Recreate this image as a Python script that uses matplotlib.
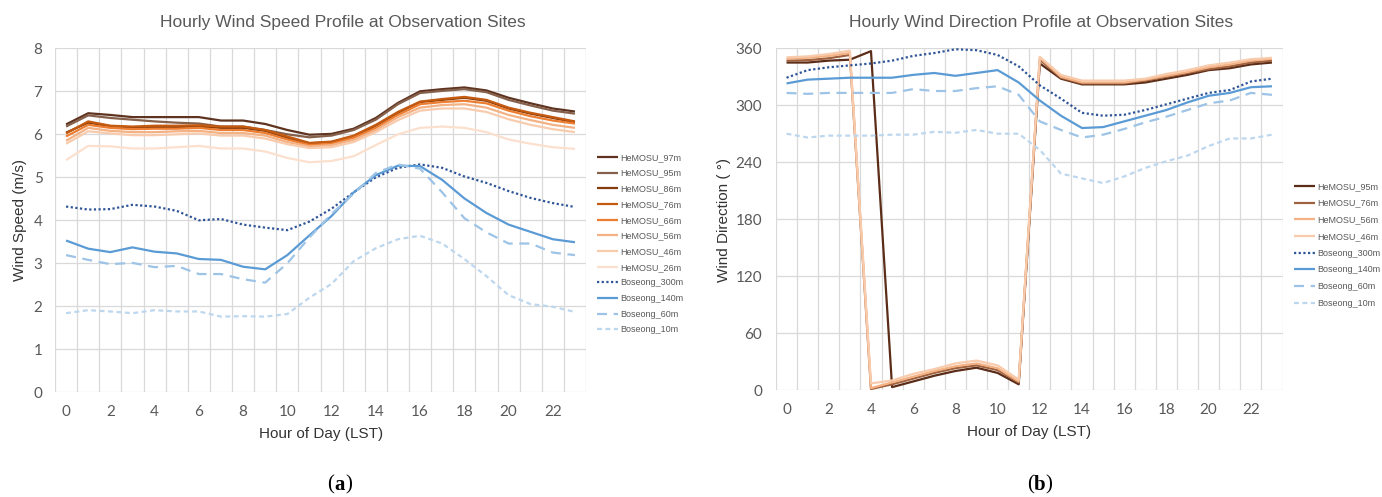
import matplotlib
matplotlib.use("Agg")
import matplotlib.pyplot as plt
from matplotlib.ticker import FixedLocator

hours = list(range(24))

# ---- Wind speed (m/s) ----
spd_hemosu_97 = [6.23, 6.49, 6.45, 6.40, 6.40, 6.40, 6.40, 6.32, 6.32, 6.24, 6.10, 5.99, 6.01, 6.13, 6.38, 6.73, 7.00, 7.05, 7.09, 7.02, 6.85, 6.72, 6.60, 6.53]
spd_hemosu_95 = [6.18, 6.44, 6.38, 6.34, 6.30, 6.27, 6.25, 6.18, 6.18, 6.10, 6.00, 5.93, 5.97, 6.10, 6.34, 6.70, 6.96, 7.01, 7.05, 6.98, 6.80, 6.67, 6.55, 6.48]
spd_hemosu_86 = [6.04, 6.27, 6.19, 6.16, 6.17, 6.17, 6.18, 6.15, 6.15, 6.08, 5.92, 5.79, 5.82, 5.95, 6.20, 6.50, 6.75, 6.80, 6.85, 6.78, 6.60, 6.48, 6.38, 6.28]
spd_hemosu_76 = [6.02, 6.30, 6.20, 6.18, 6.20, 6.20, 6.21, 6.18, 6.18, 6.10, 5.95, 5.80, 5.83, 5.97, 6.22, 6.52, 6.76, 6.82, 6.87, 6.80, 6.62, 6.50, 6.40, 6.30]
spd_hemosu_66 = [5.95, 6.22, 6.15, 6.12, 6.13, 6.13, 6.15, 6.10, 6.10, 6.03, 5.88, 5.75, 5.78, 5.92, 6.15, 6.45, 6.70, 6.75, 6.78, 6.72, 6.55, 6.42, 6.32, 6.25]
spd_hemosu_56 = [5.85, 6.15, 6.08, 6.05, 6.05, 6.07, 6.08, 6.03, 6.03, 5.97, 5.82, 5.72, 5.75, 5.87, 6.10, 6.40, 6.62, 6.68, 6.70, 6.62, 6.45, 6.33, 6.22, 6.15]
spd_hemosu_46 = [5.78, 6.07, 6.02, 5.98, 5.98, 6.00, 6.02, 5.97, 5.97, 5.90, 5.77, 5.68, 5.70, 5.82, 6.05, 6.33, 6.55, 6.60, 6.60, 6.52, 6.35, 6.22, 6.12, 6.05]
spd_hemosu_26 = [5.40, 5.73, 5.72, 5.67, 5.67, 5.70, 5.73, 5.67, 5.67, 5.60, 5.45, 5.35, 5.38, 5.49, 5.75, 6.00, 6.15, 6.18, 6.15, 6.05, 5.88, 5.78, 5.70, 5.66]
spd_boseong_300 = [4.32, 4.25, 4.26, 4.36, 4.32, 4.22, 4.00, 4.03, 3.90, 3.83, 3.77, 3.97, 4.27, 4.65, 5.00, 5.22, 5.30, 5.22, 5.02, 4.87, 4.68, 4.52, 4.40, 4.31]
spd_boseong_140 = [3.53, 3.34, 3.26, 3.37, 3.27, 3.23, 3.10, 3.08, 2.92, 2.86, 3.19, 3.65, 4.10, 4.65, 5.05, 5.27, 5.26, 4.94, 4.51, 4.17, 3.90, 3.73, 3.56, 3.49]
spd_boseong_60 = [3.19, 3.08, 2.98, 3.01, 2.91, 2.94, 2.75, 2.75, 2.63, 2.55, 3.00, 3.60, 4.15, 4.62, 5.10, 5.30, 5.20, 4.65, 4.05, 3.72, 3.46, 3.46, 3.25, 3.19]
spd_boseong_10 = [1.84, 1.91, 1.88, 1.84, 1.91, 1.88, 1.88, 1.76, 1.77, 1.76, 1.82, 2.20, 2.52, 3.05, 3.35, 3.56, 3.64, 3.46, 3.10, 2.70, 2.26, 2.05, 1.99, 1.87]

# ---- Wind direction (deg) ----
dir_hemosu_95 = [345, 345, 347, 348, 357, 3, 9, 15, 20, 23.5, 18, 6, 344, 328, 322, 322, 322, 324, 328, 332, 337, 339, 343, 345]
dir_hemosu_76 = [347, 347.5, 349.5, 353, 1, 6, 12, 18, 23, 26, 21, 8, 348, 329, 323, 323, 323, 326, 330, 334, 338, 341, 345, 347]
dir_hemosu_56 = [349, 350, 352, 355, 2, 8, 14, 20, 25, 28, 23, 9, 350, 330, 324, 324, 324, 327, 331, 335, 340, 343, 347, 349]
dir_hemosu_46 = [350.5, 351.5, 354, 357.5, 7, 10, 17, 22, 28, 31, 26, 11, 351, 332, 326, 326, 326, 328, 333, 337, 342, 345, 348.5, 350]
dir_boseong_300 = [329, 337, 340, 342, 344, 347, 352, 355, 359, 358, 353, 341, 321, 307, 292, 289, 290, 295, 301, 307, 313, 316, 325, 328]
dir_boseong_140 = [323, 327, 328, 329, 329, 329, 332, 334, 331, 334, 337, 324, 305, 289, 276, 277, 283, 289, 295, 303, 310, 313, 319, 320]
dir_boseong_60 = [313, 312, 313, 313, 313, 313, 317, 315, 315, 318, 320, 311, 283, 274, 266, 269, 275, 282, 288, 295, 302, 305, 313, 311]
dir_boseong_10 = [270, 266, 268, 268, 268, 269, 269, 272, 271, 274, 270, 270, 253, 228, 223, 218, 225, 234, 241, 247, 257, 265, 265, 269]

speed_series = [
    ("HeMOSU_97m", spd_hemosu_97, "#5E3320", "-"),
    ("HeMOSU_95m", spd_hemosu_95, "#85604B", "-"),
    ("HeMOSU_86m", spd_hemosu_86, "#843C0C", "-"),
    ("HeMOSU_76m", spd_hemosu_76, "#C55A11", "-"),
    ("HeMOSU_66m", spd_hemosu_66, "#ED7D31", "-"),
    ("HeMOSU_56m", spd_hemosu_56, "#F4B183", "-"),
    ("HeMOSU_46m", spd_hemosu_46, "#F8CBAD", "-"),
    ("HeMOSU_26m", spd_hemosu_26, "#FBE0CE", "-"),
    ("Boseong_300m", spd_boseong_300, "#2F5597", (0, (1, 1.1))),
    ("Boseong_140m", spd_boseong_140, "#5B9BD5", "-"),
    ("Boseong_60m", spd_boseong_60, "#9DC3E6", (0, (4.5, 3))),
    ("Boseong_10m", spd_boseong_10, "#BDD7EE", (0, (2.2, 1.6))),
]
dir_series = [
    ("HeMOSU_95m", dir_hemosu_95, "#5B2C17", "-"),
    ("HeMOSU_76m", dir_hemosu_76, "#A0613E", "-"),
    ("HeMOSU_56m", dir_hemosu_56, "#F4B183", "-"),
    ("HeMOSU_46m", dir_hemosu_46, "#F8CBAD", "-"),
    ("Boseong_300m", dir_boseong_300, "#2F5597", (0, (1, 1.1))),
    ("Boseong_140m", dir_boseong_140, "#5B9BD5", "-"),
    ("Boseong_60m", dir_boseong_60, "#9DC3E6", (0, (4.5, 3))),
    ("Boseong_10m", dir_boseong_10, "#BDD7EE", (0, (2.2, 1.6))),
]

W, H = 1382, 497
fig = plt.figure(figsize=(W / 100, H / 100), dpi=100)

GRID = "#D9D9D9"
TICKC = "#595959"
TICKFONT = "Lato"
LABFONT = "Liberation Sans"


def box(x0, y0, x1, y1):
    return [x0 / W, 1 - y1 / H, (x1 - x0) / W, (y1 - y0) / H]


def style(ax, ymax, ystep, ypad):
    ax.set_xlim(-0.5, 23.5)
    ax.set_ylim(0, ymax)
    for s in ax.spines.values():
        s.set_visible(False)
    ax.set_xticks(list(range(0, 24, 2)))
    ax.xaxis.set_minor_locator(FixedLocator([h - 0.5 for h in range(25)]))
    ax.set_yticks(list(range(0, ymax + 1, ystep)))
    ax.grid(False)
    ax.grid(True, axis="x", which="minor", color=GRID, linewidth=0.9)
    ax.grid(True, axis="y", which="major", color=GRID, linewidth=0.9)
    ax.tick_params(which="both", length=0)
    ax.tick_params(axis="x", pad=9, labelsize=11, labelcolor=TICKC)
    ax.tick_params(axis="y", pad=ypad, labelsize=11, labelcolor=TICKC)
    for lab in ax.get_xticklabels() + ax.get_yticklabels():
        lab.set_fontfamily(TICKFONT)
    ax.set_axisbelow(True)


ax1 = fig.add_axes(box(55, 48.3, 586, 392.3))
style(ax1, 8, 1, 9)
h1 = []
for name, vals, col, ls in speed_series:
    ln, = ax1.plot(hours, vals, color=col, linestyle=ls, linewidth=1.6,
                   label=name, solid_joinstyle="round", solid_capstyle="butt")
    h1.append(ln)

ax2 = fig.add_axes(box(776, 48.3, 1282.5, 390))
style(ax2, 360, 60, 10)
h2 = []
for name, vals, col, ls in dir_series:
    ln, = ax2.plot(hours, vals, color=col, linestyle=ls, linewidth=1.6,
                   label=name, solid_joinstyle="round", solid_capstyle="butt")
    h2.append(ln)

# titles
fig.text(343 / W, 1 - 22 / H, "Hourly Wind Speed Profile at Observation Sites",
         ha="center", va="center", fontsize=12.5, color="#595959", family=LABFONT)
fig.text(1041 / W, 1 - 22 / H, "Hourly Wind Direction Profile at Observation Sites",
         ha="center", va="center", fontsize=12.5, color="#595959", family=LABFONT)

# axis labels
fig.text(321 / W, 1 - 434 / H, "Hour of Day (LST)", ha="center", va="center",
         fontsize=11, color="#333333", family=LABFONT)
fig.text(1029 / W, 1 - 432 / H, "Hour of Day (LST)", ha="center", va="center",
         fontsize=11, color="#333333", family=LABFONT)
fig.text(20 / W, 1 - 220 / H, "Wind Speed (m/s)", ha="center", va="center",
         rotation=90, fontsize=11, color="#333333", family=LABFONT)
fig.text(724 / W, 1 - 220 / H, "Wind Direction ( °)", ha="center", va="center",
         rotation=90, fontsize=11, color="#333333", family=LABFONT)

# legends
leg_kw = dict(frameon=False, handlelength=2.35, handletextpad=0.2,
              borderaxespad=0, borderpad=0, loc="upper left",
              prop={"family": LABFONT, "size": 6.5})
lg1 = fig.legend(handles=h1, bbox_to_anchor=(597 / W, 1 - 153 / H),
                 labelspacing=0.74, **leg_kw)
lg2 = fig.legend(handles=h2, bbox_to_anchor=(1294 / W, 1 - 182 / H),
                 labelspacing=0.85, **leg_kw)
for lg in (lg1, lg2):
    for t in lg.get_texts():
        t.set_color("#595959")

# panel labels: regular parentheses, bold letter
for cx, letter in ((340, "a"), (1040, "b")):
    y = 1 - 485 / H
    fig.text((cx - 5.5) / W, y, "(", ha="right", va="center", fontsize=15,
             family="Liberation Serif", color="black")
    fig.text(cx / W, y, letter, ha="center", va="center", fontsize=15,
             family="Liberation Serif", fontweight="bold", color="black")
    fig.text((cx + 5.5) / W, y, ")", ha="left", va="center", fontsize=15,
             family="Liberation Serif", color="black")

fig.savefig("out.png", dpi=100)
